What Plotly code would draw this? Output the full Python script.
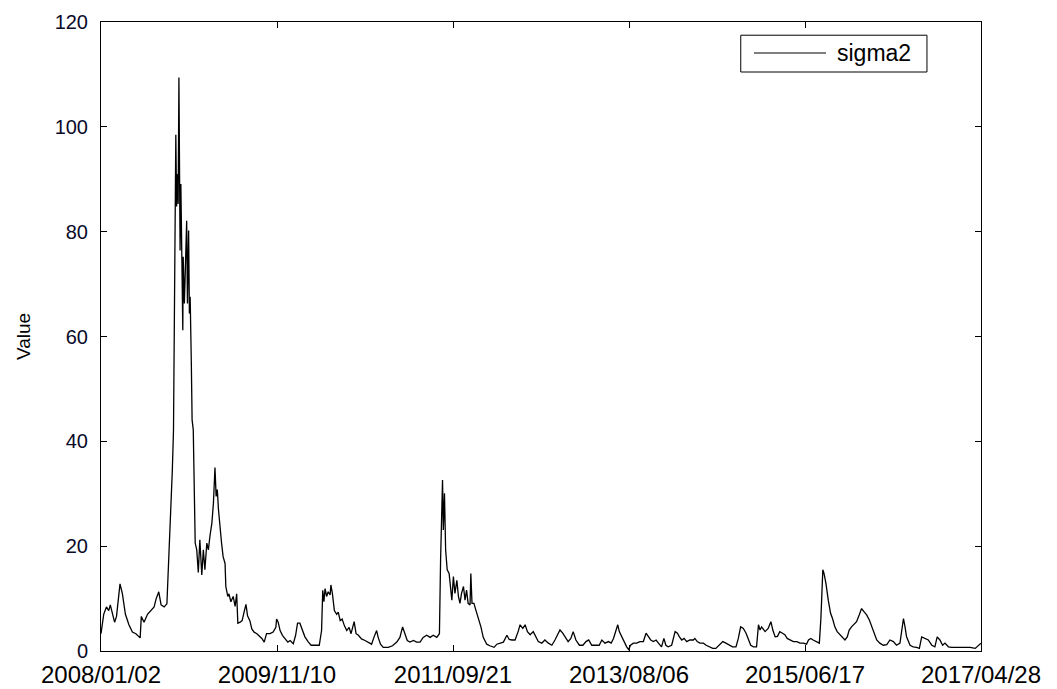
import plotly.graph_objects as go

# trading-day index (0 = 2008/01/02, 2270 = 2017/04/28) and sigma2 values
day_index = [
    0, 7, 14, 20, 24, 29, 35, 40, 49, 55, 63, 72, 81, 90, 101, 104, 111, 120, 128, 137,
    142, 149, 155, 163, 170, 174, 180, 184, 187, 188, 191, 193, 195, 197, 199, 201, 204, 206, 209, 211,
    212, 215, 217, 221, 223, 226, 228, 230, 233, 235, 238, 241, 243, 247, 251, 255, 260, 264, 268, 273,
    277, 281, 286, 290, 294, 297, 300, 303, 307, 311, 315, 320, 322, 327, 330, 335, 341, 346, 350, 353,
    359, 364, 370, 374, 378, 384, 389, 395, 402, 406, 415, 421, 427, 436, 444, 451, 453, 457, 462, 468,
    475, 482, 488, 496, 502, 507, 513, 519, 526, 535, 542, 552, 563, 569, 572, 575, 578, 582, 586, 591,
    593, 597, 602, 608, 612, 617, 622, 628, 634, 640, 645, 653, 658, 664, 672, 681, 690, 698, 704, 711,
    715, 721, 728, 741, 752, 763, 771, 778, 784, 790, 797, 806, 814, 823, 831, 840, 849, 857, 866, 873,
    876, 881, 883, 886, 889, 893, 898, 902, 905, 909, 913, 918, 922, 926, 930, 935, 939, 943, 947, 952,
    954, 957, 962, 967, 973, 980, 986, 995, 1003, 1014, 1021, 1029, 1038, 1047, 1053, 1060, 1068, 1076, 1081, 1088,
    1094, 1100, 1107, 1115, 1122, 1128, 1137, 1145, 1154, 1163, 1171, 1177, 1184, 1191, 1198, 1205, 1212, 1218, 1225, 1234,
    1243, 1251, 1258, 1266, 1277, 1285, 1292, 1300, 1309, 1316, 1322, 1328, 1333, 1337, 1343, 1349, 1356, 1361, 1366, 1373,
    1382, 1390, 1399, 1406, 1412, 1418, 1425, 1432, 1438, 1446, 1452, 1457, 1463, 1472, 1481, 1487, 1492, 1498, 1504, 1511,
    1519, 1528, 1532, 1538, 1545, 1554, 1561, 1569, 1578, 1586, 1595, 1604, 1612, 1621, 1629, 1638, 1644, 1650, 1657, 1664,
    1670, 1676, 1683, 1691, 1696, 1700, 1704, 1713, 1721, 1728, 1733, 1739, 1745, 1751, 1758, 1764, 1770, 1777, 1786, 1795,
    1803, 1812, 1820, 1825, 1831, 1837, 1846, 1853, 1857, 1862, 1865, 1870, 1876, 1882, 1887, 1893, 1899, 1906, 1913, 1919,
    1925, 1930, 1936, 1942, 1949, 1956, 1962, 1968, 1975, 1982, 1988, 1994, 2001, 2009, 2018, 2027, 2035, 2044, 2052, 2061,
    2065, 2070, 2074, 2078, 2087, 2095, 2104, 2111, 2117, 2126, 2134, 2143, 2151, 2157, 2164, 2171, 2177, 2186, 2194, 2207,
    2224, 2242, 2255, 2263, 2270,
]

sigma2 = [
    3.3, 7.0, 8.4, 7.7, 8.8, 7.0, 5.5, 6.6, 12.8, 11.0, 7.0, 5.0, 3.6, 3.3, 2.5, 6.6, 5.5, 7.0, 7.7, 8.4,
    9.9, 11.3, 8.8, 8.4, 9.0, 16.0, 26.0, 34.5, 42.0, 53.6, 91.8, 98.5, 84.8, 91.0, 85.3, 109.4, 76.4, 89.1, 72.6, 61.2,
    75.2, 66.3, 71.3, 82.1, 66.3, 80.2, 64.4, 67.6, 54.9, 44.1, 42.2, 32.7, 20.6, 19.3, 15.0, 21.2, 14.5, 19.3, 15.5, 20.6,
    19.3, 21.9, 24.4, 28.2, 35.0, 29.5, 30.8, 27.0, 23.1, 20.6, 18.0, 16.7, 12.3, 10.4, 10.9, 9.4, 10.4, 8.5, 10.9, 5.3,
    5.5, 5.8, 7.7, 8.9, 6.7, 5.8, 4.2, 3.6, 3.3, 3.0, 2.4, 1.7, 3.3, 3.3, 3.6, 4.5, 6.1, 5.5, 3.9, 3.0,
    2.4, 1.7, 2.0, 1.4, 3.0, 5.3, 5.3, 3.9, 2.7, 1.7, 1.1, 1.1, 1.1, 3.9, 11.6, 9.4, 11.9, 10.4, 11.3, 10.7,
    12.6, 10.9, 7.7, 7.0, 7.4, 5.8, 6.1, 4.8, 3.9, 4.5, 3.3, 5.6, 3.3, 3.0, 2.3, 2.0, 1.7, 1.3, 2.6, 3.9,
    2.6, 1.3, 0.7, 0.7, 1.0, 1.7, 2.6, 4.6, 3.3, 2.0, 1.7, 2.0, 1.7, 1.7, 2.6, 3.0, 2.6, 3.0, 2.6, 3.3,
    17.4, 32.6, 23.1, 30.1, 19.3, 15.5, 14.8, 11.6, 9.7, 14.2, 11.0, 13.5, 10.4, 9.1, 11.0, 12.3, 9.7, 11.6, 9.1, 8.8,
    14.8, 9.1, 9.1, 7.8, 6.5, 4.6, 2.6, 1.3, 1.0, 0.7, 1.3, 1.5, 1.7, 3.0, 2.2, 2.1, 2.1, 3.7, 5.0, 4.3,
    5.0, 3.7, 3.1, 3.7, 2.7, 1.8, 1.5, 2.1, 1.5, 1.1, 2.1, 3.1, 4.0, 3.4, 2.7, 1.8, 2.4, 3.7, 2.1, 1.1,
    1.1, 1.8, 2.1, 1.1, 1.1, 1.1, 2.1, 1.5, 1.8, 1.5, 2.4, 3.7, 5.0, 3.7, 2.7, 1.8, 0.8, 0.3, 1.1, 1.5,
    1.5, 1.8, 1.8, 3.4, 2.7, 2.1, 1.8, 2.1, 1.5, 0.8, 2.4, 1.1, 0.8, 1.1, 3.7, 3.4, 2.7, 2.1, 2.4, 1.8,
    2.1, 2.1, 2.4, 1.8, 1.5, 1.5, 1.1, 0.8, 0.5, 0.5, 1.1, 1.8, 1.5, 1.1, 0.8, 0.8, 2.4, 4.6, 4.3, 3.4,
    2.1, 1.1, 0.8, 0.8, 5.0, 4.0, 4.6, 3.7, 4.3, 5.6, 4.0, 2.7, 2.8, 3.7, 3.4, 3.1, 2.4, 2.1, 1.8, 1.8,
    1.5, 1.5, 1.3, 2.1, 2.4, 2.1, 1.8, 1.5, 6.2, 15.5, 14.8, 12.9, 9.7, 7.2, 6.2, 4.6, 3.7, 3.1, 2.4, 2.1,
    2.7, 4.0, 4.6, 5.0, 5.6, 6.9, 8.1, 7.5, 6.9, 5.9, 4.6, 3.4, 2.1, 1.5, 1.1, 1.2, 2.1, 1.8, 1.1, 1.5,
    4.0, 6.2, 4.6, 2.7, 1.1, 0.8, 0.7, 0.5, 2.7, 2.4, 2.1, 1.1, 0.8, 2.7, 2.1, 1.1, 1.5, 0.8, 0.7, 0.7,
    0.7, 0.7, 0.5, 1.0, 1.5,
]

tick_positions = [0, 454, 908, 1362, 1816, 2270]
tick_labels = ["2008/01/02", "2009/11/10", "2011/09/21", "2013/08/06", "2015/06/17", "2017/04/28"]
series_name = "sigma2"

fig = go.Figure()
fig.add_trace(go.Scatter(
    x=day_index, y=sigma2, mode="lines", name=series_name,
    line=dict(color="black", width=1.3), showlegend=False,
))

axis_common = dict(
    showline=True, linecolor="black", linewidth=1, mirror="ticks",
    ticks="inside", ticklen=6, tickcolor="black", showgrid=False, zeroline=False,
    automargin=False,
)

# the page body adds an 8px offset, so the figure is sized to fill the remaining window
fig.update_layout(
    width=1049, height=681,
    margin=dict(l=93, r=76, t=14, b=38),
    paper_bgcolor="white", plot_bgcolor="white",
    font=dict(family="Liberation Sans, Arial, sans-serif", color="black"),
    xaxis=dict(
        range=[0, 2270], tickmode="array", tickvals=tick_positions, ticktext=tick_labels,
        tickfont=dict(size=24, color="black"), ticklabelstandoff=2, **axis_common,
    ),
    yaxis=dict(
        range=[0, 120], tickmode="linear", tick0=0, dtick=20,
        tickfont=dict(size=20, color="#0a0a28"), ticklabelstandoff=8,
        title=dict(text="Value", font=dict(size=19, color="black"), standoff=18),
        **axis_common,
    ),
)

# legend box drawn in MATLAB style
fig.add_shape(type="rect", xref="paper", yref="paper", x0=0.727, x1=0.9386, y0=0.9205, y1=0.979,
              line=dict(color="black", width=1), fillcolor="white")
fig.add_shape(type="line", xref="paper", yref="paper", x0=0.742, x1=0.8239, y0=0.9507, y1=0.9507,
              line=dict(color="black", width=1.2))
fig.add_annotation(xref="paper", yref="paper", x=0.834, y=0.9507, xanchor="left", yanchor="middle",
                   text=series_name, showarrow=False, font=dict(size=23, color="black"))

fig.write_html("out.html")
